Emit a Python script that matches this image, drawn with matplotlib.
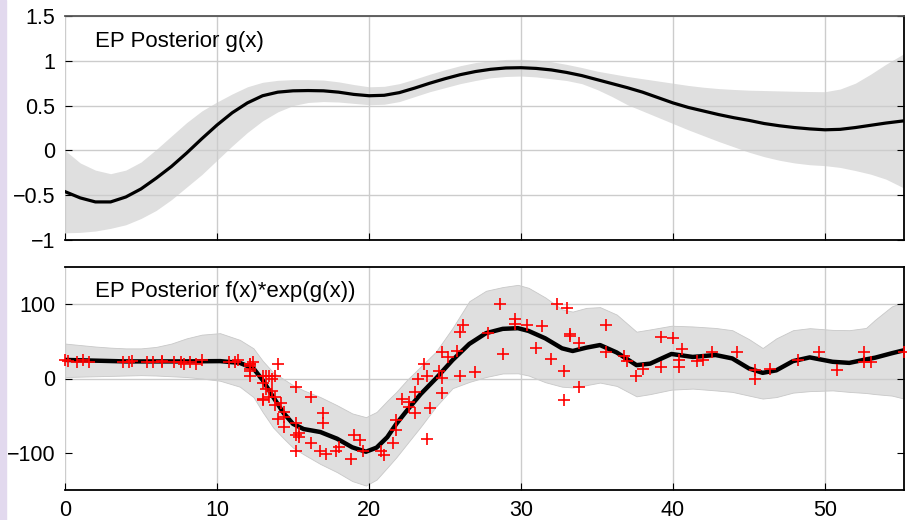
import matplotlib
matplotlib.use("Agg")
import matplotlib.pyplot as plt

plt.rcParams['font.family'] = ['Liberation Sans', 'DejaVu Sans']

# ---- top panel: posterior of g(x), mean and band ----
g_x = [0, 1, 2, 3, 4, 5, 6, 7, 8, 9, 10, 11, 12, 13, 14, 15, 16, 17, 18, 19,
       20, 21, 22, 23, 24, 25, 26, 27, 28, 29, 30, 31, 32, 33, 34, 35, 36, 37,
       38, 39, 40, 41, 42, 43, 44, 45, 46, 47, 48, 49, 50, 51, 52, 53, 54, 55.2]
g_mean = [-0.46, -0.53, -0.575, -0.575, -0.52, -0.43, -0.31, -0.18, -0.03, 0.13,
          0.283, 0.42, 0.53, 0.61, 0.65, 0.665, 0.668, 0.665, 0.65, 0.625,
          0.61, 0.615, 0.645, 0.695, 0.75, 0.80, 0.845, 0.88, 0.905, 0.92,
          0.923, 0.915, 0.898, 0.87, 0.835, 0.79, 0.745, 0.70, 0.65, 0.59,
          0.53, 0.48, 0.44, 0.40, 0.365, 0.335, 0.30, 0.275, 0.255, 0.24,
          0.23, 0.235, 0.255, 0.28, 0.305, 0.33]
g_upper = [0.0, -0.14, -0.22, -0.26, -0.22, -0.13, 0.01, 0.16, 0.31, 0.44,
           0.54, 0.63, 0.71, 0.76, 0.782, 0.79, 0.79, 0.785, 0.765, 0.735,
           0.71, 0.715, 0.745, 0.795, 0.85, 0.90, 0.945, 0.98, 1.0, 1.015,
           1.017, 1.01, 0.99, 0.96, 0.925, 0.885, 0.855, 0.825, 0.80, 0.775,
           0.75, 0.725, 0.705, 0.69, 0.68, 0.672, 0.668, 0.664, 0.66, 0.657,
           0.655, 0.685, 0.75, 0.85, 0.96, 1.08]
g_lower = [-0.92, -0.915, -0.90, -0.87, -0.83, -0.76, -0.67, -0.55, -0.41, -0.27,
           -0.11, 0.05, 0.20, 0.33, 0.43, 0.50, 0.535, 0.545, 0.54, 0.525,
           0.51, 0.515, 0.545, 0.60, 0.655, 0.70, 0.745, 0.78, 0.81, 0.825,
           0.83, 0.82, 0.80, 0.78, 0.745, 0.68, 0.60, 0.51, 0.44, 0.37,
           0.30, 0.23, 0.165, 0.10, 0.04, -0.02, -0.07, -0.11, -0.14, -0.16,
           -0.17, -0.19, -0.225, -0.265, -0.32, -0.42]

# ---- bottom panel: posterior of f(x)*exp(g(x)) ----
f_x = [0, 1, 2, 3, 4, 5, 6, 7, 8, 9, 10.2, 11.5, 12.4, 13.0, 13.7, 14.4, 15.0,
       15.7, 16.8, 17.9, 18.9, 19.8, 20.5, 21.2, 21.8, 22.5, 23.4, 24.4, 25.5,
       26.6, 27.7, 28.8, 29.8, 30.5, 31.6, 32.7, 33.4, 34.3, 35.2, 36.3, 37.6,
       38.5, 39.9, 41.3, 42.8, 43.9, 45.0, 45.9, 46.8, 47.9, 49.0, 50.5, 51.6,
       52.7, 53.3, 54.4, 55.2]
f_mean = [25, 24.5, 24, 23.5, 23, 23, 23, 23, 23, 23.2, 23.4, 21, 13.5, -2, -25,
          -47, -61, -68, -72, -81, -92.6, -98.5, -93, -79, -61, -43, -21, 0,
          24.8, 46.5, 61, 66.8, 67.7, 64, 54, 40.6, 37, 41.5, 45, 35, 18, 20,
          33, 29, 31.6, 27, 13.5, 7.6, 11, 23.4, 28.4, 22.5, 21, 25.7, 28, 34, 38]
f_upper = [47, 45, 43, 41.5, 40.5, 40.5, 42.5, 47, 54, 59, 61, 52, 40.6, 24, 8,
           -1, -9, -16, -25, -36, -47, -52, -45, -30, -18, -2, 16, 36, 68, 104,
           118, 123, 126, 122, 109, 93, 90, 95, 96, 86, 63, 66, 71, 70, 68, 65,
           53, 41, 54, 65, 67.7, 65.4, 65, 68, 79, 97, 103]
f_lower = [2, 2.5, 3, 3.5, 4, 4.5, 4, 3, 2, 0, -3, -11, -25, -45, -66, -81, -93,
           -102, -115, -126, -138, -144, -136, -120, -106, -88, -65, -38, -13,
           -4.6, 2, 6.8, 7, 4, -5, -11, -12, -9, -5.5, -10, -24, -21, -15, -13.6,
           -16, -18, -23, -27, -25, -19, -17, -16, -18, -19.5, -21, -23, -27]

# observations (red crosses)
obs_x = [0.0, 0.2, 0.8, 1.2, 1.6, 3.8, 4.2, 4.4, 5.4, 5.8, 6.4, 6.4, 7.2, 7.6,
         7.8, 8.2, 8.6, 9.0, 10.8, 11.2, 11.4, 12.2, 12.2, 12.2, 12.2, 12.2,
         12.2, 12.4, 13.0, 13.0, 13.0, 13.0, 13.2, 13.2, 13.4, 13.4, 13.6, 13.6,
         13.8, 13.8, 13.8, 14.0, 14.0, 14.2, 14.4, 14.4, 14.4, 15.2, 15.2, 15.2,
         15.2, 15.4, 15.4, 16.2, 16.2, 16.8, 17.0, 17.0, 17.2, 17.8, 18.0, 18.8,
         19.0, 19.4, 19.6, 20.8, 21.0, 21.6, 21.8, 21.8, 22.2, 22.6, 22.6, 23.0,
         23.0, 23.2, 23.6, 23.8, 23.8, 24.0, 24.6, 24.8, 24.8, 24.8, 25.2, 25.8,
         26.0, 26.0, 26.2, 27.0, 27.8, 28.6, 28.8, 29.6, 29.6, 30.4, 31.0, 31.4,
         32.0, 32.4, 32.8, 32.8, 33.0, 33.2, 33.2, 33.8, 33.8, 35.6, 35.6, 36.8,
         37.0, 37.6, 38.0, 39.2, 39.2, 40.0, 40.4, 40.4, 40.6, 41.6, 42.0, 42.6,
         44.2, 45.4, 45.4, 46.4, 48.2, 49.6, 50.8, 52.6, 52.6, 53.0, 55.2]
obs_y = [25.5, 24.2, 22.8, 25.5, 22.8, 22.8, 22.8, 24.2, 22.8, 22.8, 24.2, 22.8,
         22.8, 22.8, 20.1, 22.8, 20.1, 25.5, 22.8, 22.8, 25.5, 12.2, 20.1, 20.1,
         16.2, 9.5, 2.7, 22.8, 2.7, -6.6, -28.0, -29.4, -14.7, 4.0, 4.0, -25.3,
         -17.4, -1.3, 4.0, -25.3, -36.2, 20.1, -54.9, -33.5, -45.5, -65.6, -52.2,
         -12.0, -60.1, -97.6, -76.4, -73.6, -78.9, -87.0, -25.3, -97.6, -60.1,
         -46.8, -101.7, -97.6, -92.4, -108.5, -76.4, -82.9, -97.6, -97.6, -103.0,
         -87.0, -69.6, -56.3, -28.0, -38.9, -32.1, -46.8, -18.8, -1.3, 20.1,
         -81.6, 4.0, -40.1, 9.5, -20.1, 1.3, 35.0, 29.5, 37.5, 4.0, 63.0, 72.4,
         8.1, 61.7, 100.5, 33.6, 80.4, 73.7, 72.4, 41.5, 71.1, 26.8, 100.5, 9.5,
         -29.4, 95.1, 60.3, 57.6, -12.0, 48.3, 72.4, 36.2, 30.9, 24.2, 4.0, 12.2,
         56.3, 14.8, 54.9, 25.5, 14.8, 40.2, 24.2, 25.5, 36.2, 36.2, -1.3, 10.8,
         12.2, 25.5, 36.2, 10.8, 22.8, 36.2, 22.8, 36.2]

x_ticks = [0, 10, 20, 30, 40, 50]
g_ticks = [-1, -0.5, 0, 0.5, 1, 1.5]
f_ticks = [-100, 0, 100]

band_col = '#dfdfdf'
grid_col = '#cccccc'

fig = plt.figure(figsize=(9.07, 5.2), dpi=100)
# lavender strip on the left edge
fig.patches.append(plt.Rectangle((0, 0), 6 / 907, 1, transform=fig.transFigure,
                                 color='#e2d9ee', zorder=0))

ax1 = fig.add_axes([65 / 907, 1 - 240 / 520, 839 / 907, 224 / 520])
ax2 = fig.add_axes([65 / 907, 1 - 490 / 520, 839 / 907, 223 / 520])


def style_axes(ax, yticks):
    ax.set_axisbelow(True)
    ax.set_xlim(0, 55.2)
    ax.set_xticks(x_ticks)
    ax.set_yticks(yticks)
    ax.grid(True, color=grid_col, linewidth=1.0)
    ax.tick_params(direction='in', length=5, width=0.8, labelsize=15.5,
                   right=True, pad=7)
    ax.spines['left'].set_visible(False)
    for side in ['right', 'bottom', 'top']:
        ax.spines[side].set_linewidth(1.3)
        ax.spines[side].set_color('black')


# top
ax1.fill_between(g_x, g_lower, g_upper, color=band_col, linewidth=0, zorder=0.2)
ax1.plot(g_x, g_mean, color='black', linewidth=2.3, zorder=2)
ax1.set_ylim(-1, 1.5)
style_axes(ax1, g_ticks)
ax1.spines['top'].set_color('#555555')
ax1.tick_params(labelbottom=False)
ax1.set_yticklabels(['\u22121', '\u22120.5', '0', '0.5', '1', '1.5'])
ax1.text(0.036, 0.885, 'EP Posterior g(x)', transform=ax1.transAxes,
         fontsize=16, va='center', ha='left')

# bottom
ax2.fill_between(f_x, f_lower, f_upper, facecolor=band_col, edgecolor='#c8c8c8',
                 linewidth=0.6, zorder=0.2)
ax2.plot(f_x, f_mean, color='black', linewidth=3.2, zorder=2)
ax2.plot(obs_x, obs_y, linestyle='none', marker='+', color='#ff0000',
         markersize=8, markeredgewidth=1.2, zorder=3, clip_on=False)
ax2.set_ylim(-150, 150)
style_axes(ax2, f_ticks)
ax2.yaxis.get_gridlines()[0].set_visible(False)
ax2.set_yticklabels(['\u2212100', '0', '100'])
ax2.text(0.036, 0.89, 'EP Posterior f(x)*exp(g(x))', transform=ax2.transAxes,
         fontsize=16, va='center', ha='left')

fig.savefig('out.png', dpi=100)
